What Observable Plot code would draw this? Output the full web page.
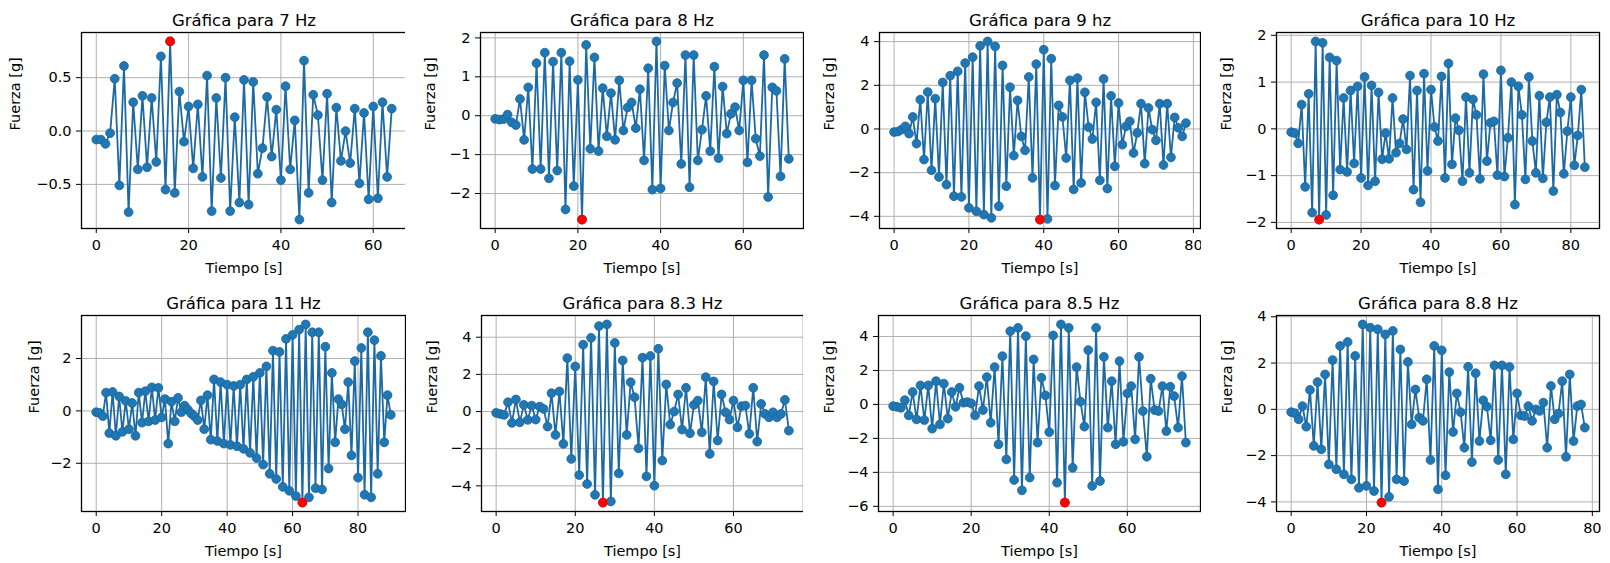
<!DOCTYPE html>
<html><head><meta charset="utf-8">
<script src="https://cdn.jsdelivr.net/npm/d3@7"></script>
<script src="https://cdn.jsdelivr.net/npm/@observablehq/plot@0.6"></script>
<style>
body{margin:0;background:#fff;}
#fig{position:relative;width:1610px;height:563px;overflow:hidden;background:#fff;}
#fig > div{position:absolute;}
</style></head><body><div id="fig"></div>
<script>
// ---------- data ----------
const titles = ["Gráfica para 7 Hz","Gráfica para 8 Hz","Gráfica para 9 hz","Gráfica para 10 Hz",
                "Gráfica para 11 Hz","Gráfica para 8.3 Hz","Gráfica para 8.5 Hz","Gráfica para 8.8 Hz"];
const xLabel = "Tiempo [s]";
const yLabel = "Fuerza [g]";

const f7 = [-0.08,-0.08,-0.12,-0.02,0.49,-0.51,0.61,-0.76,0.27,-0.36,0.33,-0.34,0.31,-0.29,0.70,-0.55,0.84,-0.58,0.37,-0.10,
  0.23,-0.35,0.25,-0.43,0.52,-0.75,0.31,-0.44,0.50,-0.75,0.13,-0.67,0.48,-0.69,0.46,-0.40,-0.16,0.32,-0.24,0.20,
  -0.46,0.42,-0.36,0.10,-0.83,0.66,-0.58,0.34,0.15,-0.46,0.35,-0.67,0.22,-0.28,0.00,-0.30,0.21,-0.49,0.17,-0.64,
  0.23,-0.63,0.27,-0.43,0.21];
const f8 = [-0.08,-0.10,-0.09,0.03,-0.17,-0.24,0.43,-0.62,0.73,-1.37,1.35,-1.37,1.62,-1.61,1.39,-1.41,1.62,-2.41,1.40,-1.81,
  0.92,-2.67,1.82,-0.85,1.50,-0.91,0.71,-0.53,0.58,-0.62,0.91,-0.38,0.21,0.34,-0.32,0.68,-1.15,1.22,-1.90,1.91,
  -1.87,1.29,-0.38,0.34,0.84,-1.24,1.56,-1.84,1.56,-1.15,-0.36,0.51,-0.91,1.26,-1.09,0.75,-0.46,0.05,0.22,-0.38,
  0.91,-1.20,0.91,-0.59,-1.04,1.56,-2.09,0.73,0.64,-1.56,1.46,-1.11];
const f9 = [-0.14,-0.12,-0.03,0.12,-0.21,0.55,-0.67,1.34,-1.40,1.69,-1.89,1.39,-2.20,2.13,-2.55,2.44,-3.08,2.64,-3.11,3.02,
  -3.61,3.29,-3.77,3.81,-3.92,4.01,-4.07,3.78,-3.54,2.91,-2.62,1.91,-1.22,1.31,-0.34,-0.98,2.38,-2.24,2.97,-4.15,
  3.63,-4.12,3.22,-2.59,1.08,0.55,-1.33,2.23,-2.77,2.33,-2.47,1.68,0.08,-0.46,1.22,-2.35,2.29,-2.73,1.52,-1.71,
  1.19,-0.72,0.12,0.35,-1.10,-0.18,1.16,-1.59,0.96,-0.03,-0.52,1.16,-1.65,1.16,-1.30,0.53,0.05,-0.34,0.27];
const f10 = [-0.07,-0.09,-0.31,0.52,-1.24,0.75,-1.79,1.87,-1.94,1.84,-1.84,1.53,-1.42,1.46,-0.87,0.66,-0.92,0.82,-0.74,0.91,
  -1.05,1.11,-1.21,0.93,-1.12,0.78,-0.65,-0.09,-0.64,0.66,-0.51,-0.31,0.21,-0.44,1.14,-1.30,0.82,-1.57,1.18,-0.90,
  0.84,0.04,-0.26,1.12,-1.05,1.40,-0.76,0.23,-0.03,-1.12,0.68,-0.94,0.63,0.30,-1.07,1.17,-0.69,0.13,0.16,-0.99,
  1.25,-1.02,-0.19,1.00,-1.62,0.91,0.30,-1.08,1.11,-0.26,-0.94,0.71,-1.06,0.14,0.68,-1.33,0.73,0.35,-0.96,-0.05,
  0.68,-0.78,-0.14,0.84,-0.82];
const f11 = [-0.05,-0.08,-0.20,0.70,-0.85,0.72,-0.95,0.55,-0.80,0.38,-0.70,0.30,-0.95,0.70,-0.45,0.75,-0.40,0.90,-0.35,0.88,
  -0.25,0.45,-1.25,0.35,-0.40,0.50,-0.05,0.20,0.05,-0.10,-0.20,-0.35,0.40,-0.70,0.60,-1.10,1.20,-1.15,1.10,-1.25,
  1.00,-1.30,0.95,-1.35,1.00,-1.45,1.20,-1.60,1.30,-1.80,1.45,-2.05,1.70,-2.40,2.30,-2.60,2.25,-2.90,2.75,-3.05,
  2.90,-3.25,3.10,-3.50,3.30,-3.30,3.00,-2.95,3.00,-3.00,2.45,-2.20,1.45,-1.20,0.45,0.25,-0.70,1.10,-1.70,1.90,
  -2.55,2.40,-3.20,3.00,-3.30,2.70,-2.40,2.10,-1.20,0.60,-0.15];
const f83 = [-0.07,-0.13,-0.18,0.50,-0.61,0.65,-0.58,0.36,-0.45,0.32,-0.43,0.27,0.14,-0.81,0.99,-1.26,1.08,-1.74,2.88,-2.55,
  2.43,-3.42,3.60,-3.90,3.97,-4.48,4.60,-4.90,4.69,-4.84,3.69,-3.33,2.75,-1.26,1.58,0.77,-1.98,2.90,-3.49,2.99,
  -3.99,3.38,-2.64,1.46,-0.70,0.00,0.92,-0.97,1.28,-1.17,0.36,0.59,-1.12,1.85,-2.28,1.62,-1.56,0.92,-0.04,-0.43,
  0.59,-0.85,0.29,0.32,-1.20,1.28,-1.62,0.41,-0.13,-0.31,-0.04,-0.31,-0.13,0.63,-1.03];
const f85 = [-0.10,-0.14,-0.20,0.25,-0.65,0.73,-0.88,1.12,-0.92,1.12,-1.43,1.37,-1.18,1.22,-0.84,0.73,-0.14,0.98,0.10,0.14,
  0.06,-0.65,1.08,-0.33,1.61,-1.08,2.20,-2.35,2.84,-3.24,4.31,-4.45,4.51,-5.06,4.02,-4.31,2.65,-2.25,1.57,0.53,
  -1.63,4.06,-4.61,4.71,-5.78,4.51,-3.73,2.20,0.16,-1.31,3.20,-4.80,4.51,-4.51,2.80,-1.37,1.37,-2.35,2.55,-2.20,
  0.65,1.08,-2.06,2.80,-0.39,-3.08,1.51,-0.33,-0.39,1.08,-1.57,1.04,0.49,-1.37,1.67,-2.25];
const f88 = [-0.12,-0.17,-0.43,0.14,-0.75,0.84,-1.58,1.18,-1.73,1.51,-2.38,2.13,-2.59,2.74,-2.81,2.91,-3.03,2.31,-3.39,3.67,
  -3.31,3.53,-3.53,3.46,-4.03,3.24,-3.78,3.39,-3.03,2.59,-3.10,2.05,-0.65,0.86,-0.36,-0.50,1.30,-2.19,2.74,-3.46,
  2.55,-2.85,1.61,-0.98,0.69,-0.12,-1.66,1.84,-2.28,1.56,-1.37,0.39,0.12,-1.34,1.90,-2.19,1.90,-2.81,1.83,-1.30,
  0.69,-0.26,-0.29,0.14,-0.50,0.00,-0.07,0.29,-1.66,1.01,-0.43,-0.19,1.22,-2.05,1.51,-1.37,0.14,0.21,-0.79];

const series = [f7, f8, f9, f10, f11, f83, f85, f88];
const xTicks = [[0,20,40,60],[0,20,40,60],[0,20,40,60,80],[0,20,40,60,80],
                [0,20,40,60,80],[0,20,40,60],[0,20,40,60],[0,20,40,60,80]];
const yTicks = [[-0.5,0,0.5],[-2,-1,0,1,2],[-4,-2,0,2,4],[-2,-1,0,1,2],
                [-2,0,2],[-4,-2,0,2,4],[-6,-4,-2,0,2,4],[-4,-2,0,2,4]];

// ---------- layout ----------
const layout = {
  left:  [81, 480, 879, 1276, 81, 481, 878, 1276],
  right: [406, 803, 1200, 1599, 405, 803, 1200, 1599],
  top:   [32, 32, 32, 32, 315, 315, 315, 315],
  frameH: 196,
  yLabelDx: [-66, -50, -50, -50, -47, -49, -49, -49]
};
const ML = 75, MR = 8, MT = 32, MB = 52;
const blue = "#1f77b4", lineBlue = "#1d69a3", dotEdge = "#1b629a", gridColor = "#b0b0b0";
const fig = document.getElementById("fig");

series.forEach((vals, k) => {
  const data = vals.map((v, i) => ({t: i, f: v}));
  const peak = data.reduce((a, b) => Math.abs(b.f) > Math.abs(a.f) ? b : a);
  const [lo, hi] = d3.extent(vals);
  const ypad = (hi - lo) * 0.05;
  const n = vals.length - 1, xpad = n * 0.05;
  const fmt = k === 0 ? d => d.toFixed(1).replace("-", "\u2212") : d => String(d).replace("-", "\u2212");
  const W = layout.right[k] - layout.left[k];
  const chart = Plot.plot({
    width: W + ML + MR, height: layout.frameH + MT + MB,
    marginLeft: ML, marginRight: MR, marginTop: MT, marginBottom: MB,
    style: {fontFamily: "DejaVu Sans", fontSize: "14.5px", background: "white", color: "black", overflow: "visible"},
    x: {domain: [-xpad, n + xpad]},
    y: {domain: [lo - ypad, hi + ypad]},
    marks: [
      Plot.gridX(xTicks[k], {stroke: gridColor, strokeOpacity: 1, strokeWidth: 1}),
      Plot.gridY(yTicks[k], {stroke: gridColor, strokeOpacity: 1, strokeWidth: 1}),
      Plot.line(data, {x: "t", y: "f", stroke: lineBlue, strokeWidth: 1.8}),
      Plot.dot(data, {x: "t", y: "f", r: 4.4, fill: blue, stroke: dotEdge, strokeWidth: 0.8}),
      Plot.dot([peak], {x: "t", y: "f", r: 4.8, fill: "red", stroke: "none"}),
      Plot.frame({stroke: "black", strokeWidth: 1.3}),
      Plot.axisX({ticks: xTicks[k], tickSize: 5, tickPadding: 6, label: null, fontSize: 14.5}),
      Plot.axisY({ticks: yTicks[k], tickFormat: fmt, tickSize: 5, tickPadding: 5, label: null, fontSize: 14.5}),
      Plot.text([titles[k]], {frameAnchor: "top", lineAnchor: "bottom", dy: -7, fontSize: 16.5, fill: "black"}),
      Plot.text([xLabel], {frameAnchor: "bottom", lineAnchor: "middle", dy: 40, fontSize: 14.5, fill: "black"}),
      Plot.text([yLabel], {frameAnchor: "left", lineAnchor: "middle", rotate: -90, dx: layout.yLabelDx[k], fontSize: 14.5, fill: "black"})
    ]
  });
  const holder = document.createElement("div");
  holder.style.left = (layout.left[k] - ML) + "px";
  holder.style.top = (layout.top[k] - MT) + "px";
  holder.appendChild(chart);
  fig.appendChild(holder);
});
</script></body></html>
